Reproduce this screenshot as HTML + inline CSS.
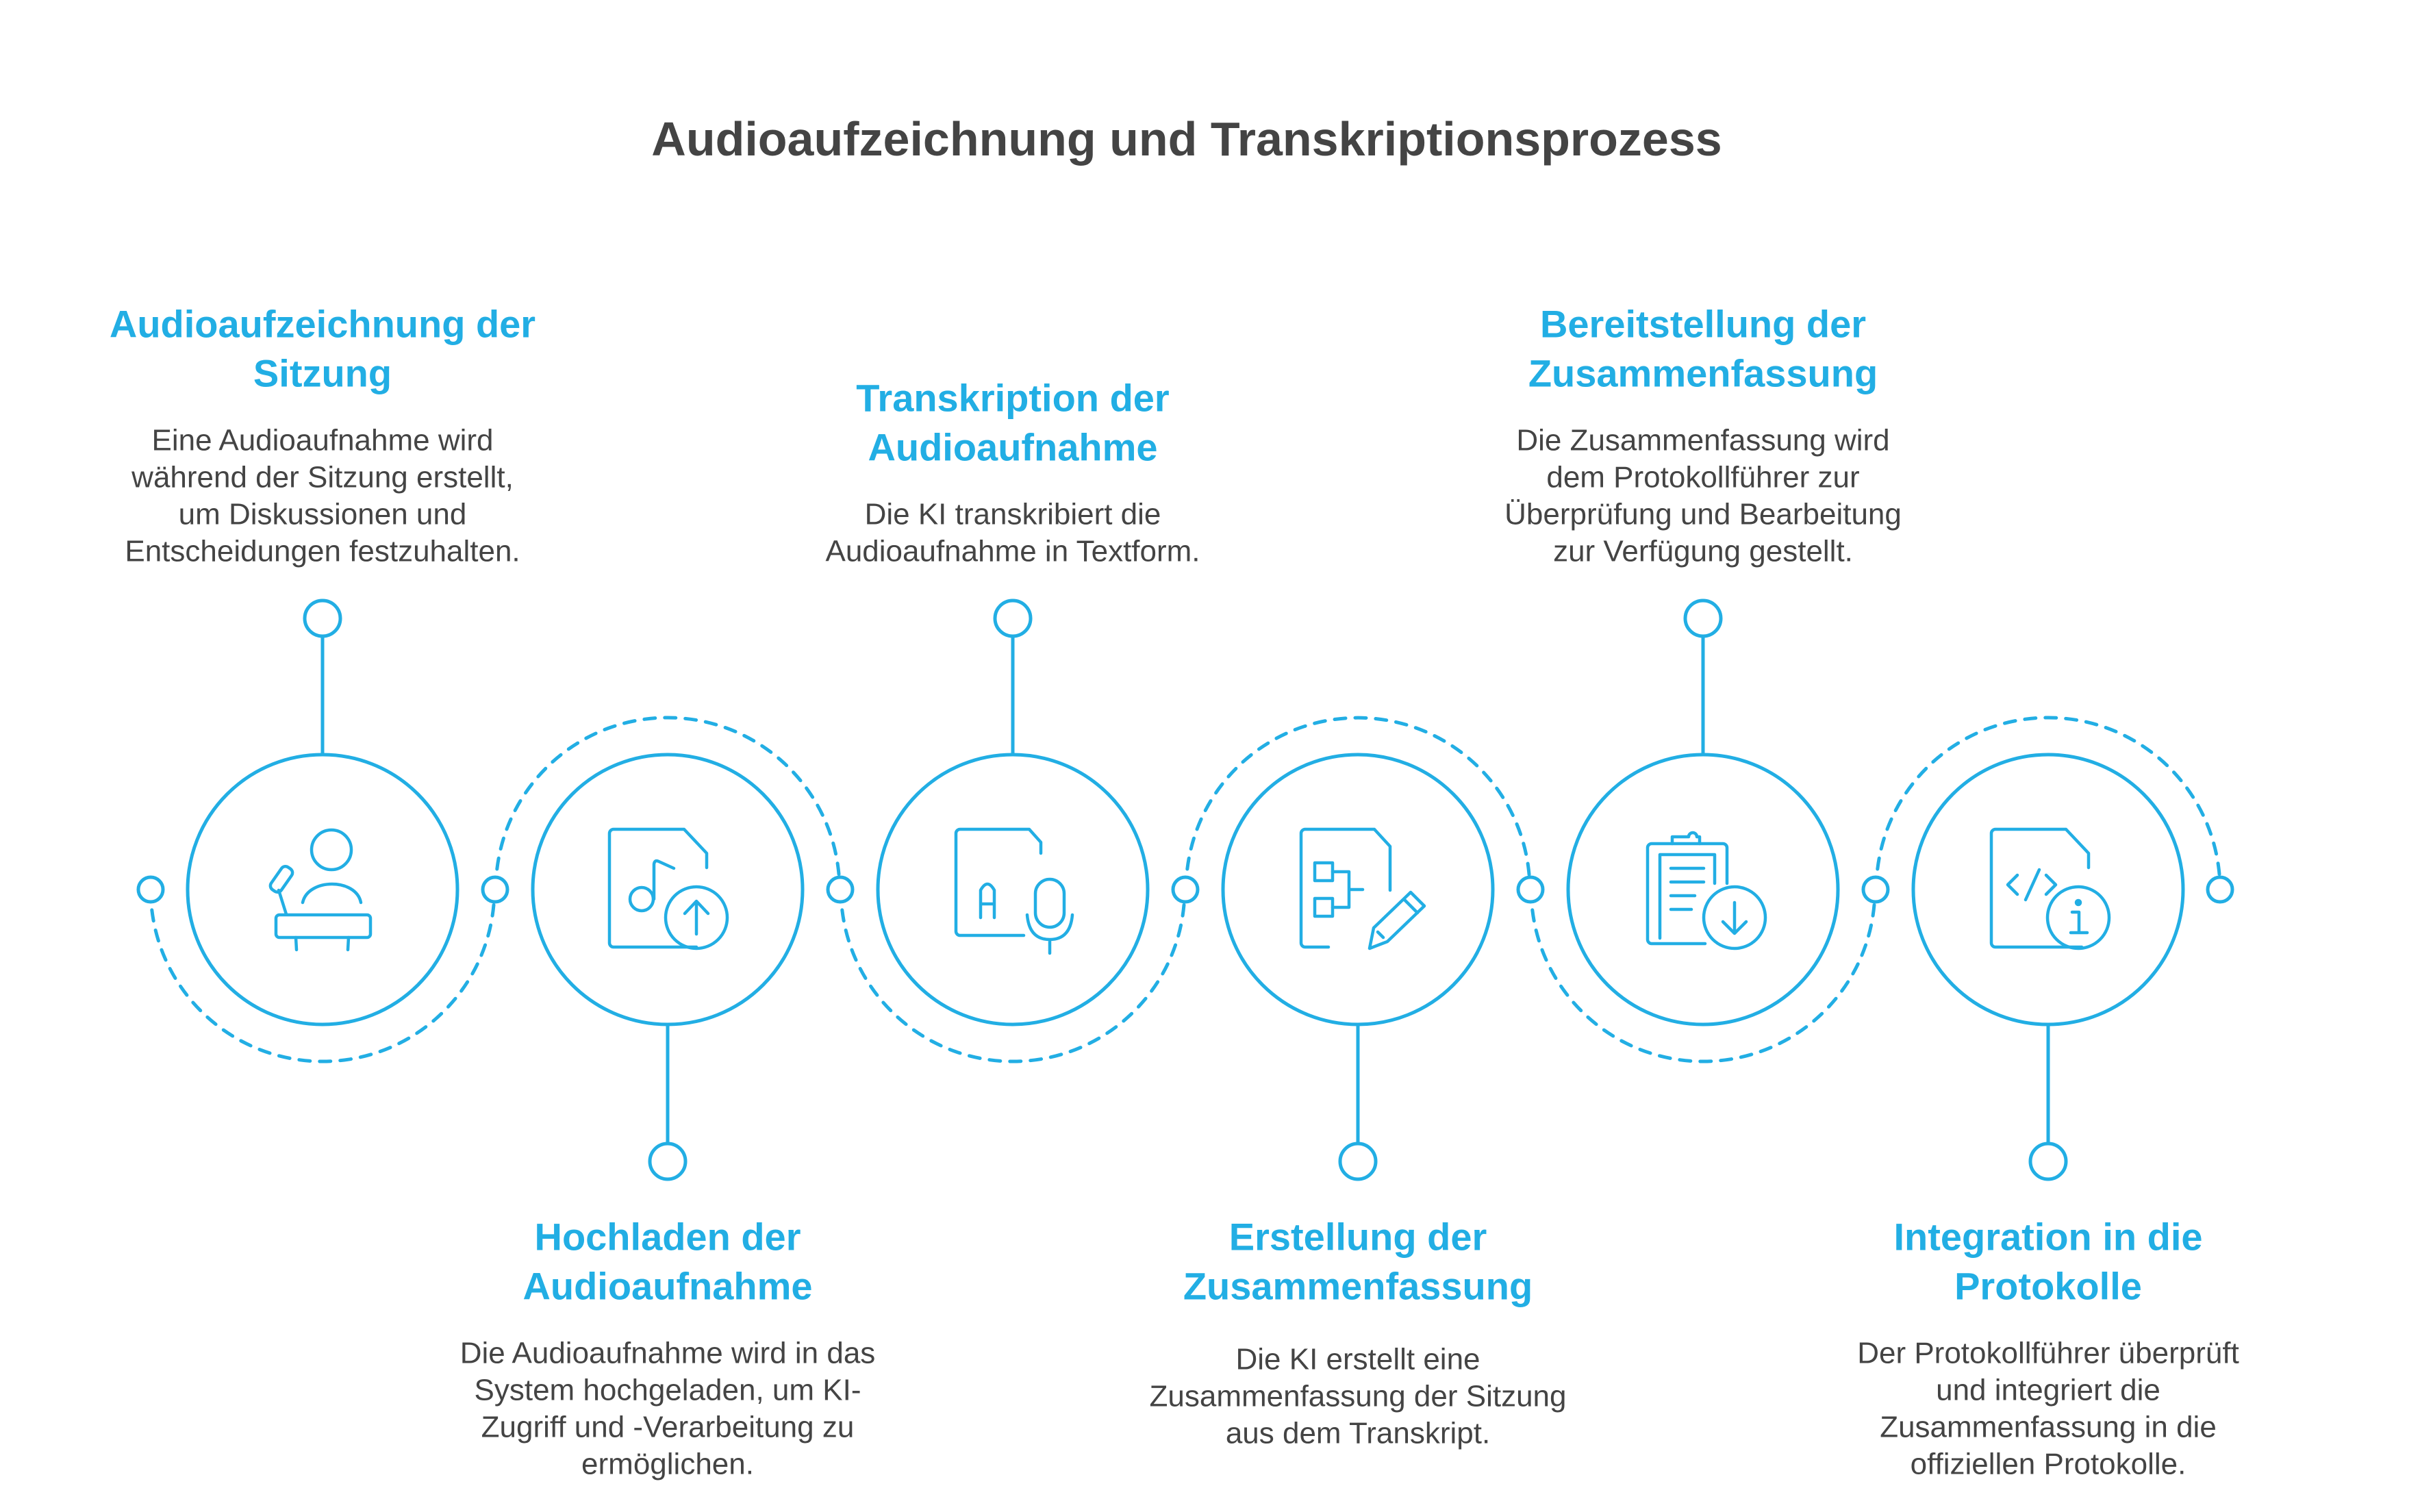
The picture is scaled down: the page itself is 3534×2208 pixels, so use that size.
<!DOCTYPE html>
<html><head><meta charset="utf-8"><style>
html,body{margin:0;padding:0;background:#fff;}
svg{display:block;}
.t{font-family:"Liberation Sans",sans-serif;font-weight:bold;fill:#444;font-size:70px;}
.h{font-family:"Liberation Sans",sans-serif;font-weight:bold;fill:#22AEE4;font-size:56px;}
.b{font-family:"Liberation Sans",sans-serif;fill:#444;font-size:44px;}
</style></head><body>
<svg width="3534" height="2208" viewBox="0 0 3534 2208" xmlns="http://www.w3.org/2000/svg">
<text class="t" x="1733" y="203" text-anchor="middle" dominant-baseline="central">Audioaufzeichnung und Transkriptionsprozess</text>

<g fill="none" stroke="#22AEE4" stroke-width="5" stroke-dasharray="16 14" stroke-linecap="round">
<path d="M220 1299 A251 251 0 0 0 722 1299"/>
<path d="M724 1299 A251 251 0 0 1 1226 1299"/>
<path d="M1228 1299 A251 251 0 0 0 1730 1299"/>
<path d="M1732 1299 A251 251 0 0 1 2234 1299"/>
<path d="M2236 1299 A251 251 0 0 0 2738 1299"/>
<path d="M2740 1299 A251 251 0 0 1 3242 1299"/>
</g>

<g fill="#fff" stroke="#22AEE4" stroke-width="5">
<circle cx="220" cy="1299" r="18"/><circle cx="723" cy="1299" r="18"/><circle cx="1227" cy="1299" r="18"/>
<circle cx="1731" cy="1299" r="18"/><circle cx="2235" cy="1299" r="18"/><circle cx="2739" cy="1299" r="18"/>
<circle cx="3242" cy="1299" r="18"/>
<line x1="471" y1="929" x2="471" y2="1102"/><line x1="1479" y1="929" x2="1479" y2="1102"/><line x1="2487" y1="929" x2="2487" y2="1102"/>
<line x1="975" y1="1496" x2="975" y2="1669"/><line x1="1983" y1="1496" x2="1983" y2="1669"/><line x1="2991" y1="1496" x2="2991" y2="1669"/>
<circle cx="471" cy="903" r="26"/><circle cx="1479" cy="903" r="26"/><circle cx="2487" cy="903" r="26"/>
<circle cx="975" cy="1696" r="26"/><circle cx="1983" cy="1696" r="26"/><circle cx="2991" cy="1696" r="26"/>
<circle cx="471" cy="1299" r="197"/><circle cx="975" cy="1299" r="197"/><circle cx="1479" cy="1299" r="197"/>
<circle cx="1983" cy="1299" r="197"/><circle cx="2487" cy="1299" r="197"/><circle cx="2991" cy="1299" r="197"/>
</g>

<g fill="none" stroke="#22AEE4" stroke-width="4.5" stroke-linecap="round" stroke-linejoin="round">
<circle cx="484" cy="1241" r="29"/>
<path d="M442 1318 C450 1282 520 1282 527 1318"/>
<rect x="403" y="1336" width="138" height="33" rx="5"/>
<line x1="432" y1="1369" x2="433" y2="1387"/><line x1="509" y1="1369" x2="508" y2="1387"/>
<line x1="407" y1="1300" x2="418" y2="1335"/>
<rect x="402" y="1264" width="18" height="40" rx="7" transform="rotate(35 411 1284)"/>
<path d="M1017 1383 H896 a6 6 0 0 1 -6 -6 V1217 a6 6 0 0 1 6 -6 H999 L1032 1246 V1267"/>
<circle cx="1017" cy="1340" r="45"/>
<line x1="1017" y1="1318" x2="1017" y2="1364"/><path d="M1000 1334 L1017 1316 L1034 1334"/>
<circle cx="937" cy="1313" r="17"/><path d="M955 1313 V1262 Q956 1255 962 1258 L984 1268"/>
<path d="M1495 1366 H1402 a6 6 0 0 1 -6 -6 V1217 a6 6 0 0 1 6 -6 H1503 L1520 1230 V1246"/>
<path d="M1432 1340 V1300 Q1442 1282 1452 1300 V1340 M1432 1320 H1452"/>
<rect x="1512" y="1284" width="42" height="70" rx="21"/>
<path d="M1500 1336 Q1503 1372 1533 1372 Q1563 1372 1566 1336 M1533 1372 V1392"/>
<path d="M1940 1383 H1906 a6 6 0 0 1 -6 -6 V1217 a6 6 0 0 1 6 -6 H2007 L2030 1236 V1300"/>
<rect x="1920" y="1260" width="26" height="26"/><rect x="1920" y="1312" width="26" height="26"/>
<path d="M1946 1273 H1970 V1325 H1946 M1970 1299 H1990"/>
<path d="M2000 1385 L2006 1355 L2060 1303 L2080 1323 L2026 1375 Z M2012 1361 L2020 1369 M2050 1313 L2070 1333"/>
<path d="M2490 1378 H2412 a6 6 0 0 1 -6 -6 V1238 a6 6 0 0 1 6 -6 H2516 a6 6 0 0 1 6 6 V1290"/>
<path d="M2424 1370 V1248 H2504 V1290"/>
<path d="M2442 1232 V1222 H2466 a6 6 0 0 1 12 0 H2482 V1232"/>
<path d="M2440 1268 H2488 M2440 1288 H2488 M2440 1308 H2475 M2440 1328 H2470"/>
<circle cx="2533" cy="1340" r="45"/>
<line x1="2533" y1="1318" x2="2533" y2="1362"/><path d="M2516 1346 L2533 1363 L2550 1346"/>
<path d="M3040 1383 H2914 a6 6 0 0 1 -6 -6 V1217 a6 6 0 0 1 6 -6 H3017 L3050 1246 V1267"/>
<path d="M2946 1278 L2932 1292 L2946 1306 M2988 1278 L3002 1292 L2988 1306 M2978 1270 L2958 1314"/>
<circle cx="3035" cy="1340" r="45"/>
<circle cx="3035" cy="1318" r="3" fill="#22AEE4"/>
<path d="M3026 1332 H3036 V1362 M3024 1362 H3048"/>
</g>

<g text-anchor="middle" dominant-baseline="central">
<text class="h" x="471" y="473">Audioaufzeichnung der</text>
<text class="h" x="471" y="545">Sitzung</text>
<text class="b" x="471" y="643">Eine Audioaufnahme wird</text>
<text class="b" x="471" y="697">während der Sitzung erstellt,</text>
<text class="b" x="471" y="751">um Diskussionen und</text>
<text class="b" x="471" y="805">Entscheidungen festzuhalten.</text>

<text class="h" x="1479" y="581">Transkription der</text>
<text class="h" x="1479" y="653">Audioaufnahme</text>
<text class="b" x="1479" y="751">Die KI transkribiert die</text>
<text class="b" x="1479" y="805">Audioaufnahme in Textform.</text>

<text class="h" x="2487" y="473">Bereitstellung der</text>
<text class="h" x="2487" y="545">Zusammenfassung</text>
<text class="b" x="2487" y="643">Die Zusammenfassung wird</text>
<text class="b" x="2487" y="697">dem Protokollführer zur</text>
<text class="b" x="2487" y="751">Überprüfung und Bearbeitung</text>
<text class="b" x="2487" y="805">zur Verfügung gestellt.</text>

<text class="h" x="975" y="1806">Hochladen der</text>
<text class="h" x="975" y="1878">Audioaufnahme</text>
<text class="b" x="975" y="1976">Die Audioaufnahme wird in das</text>
<text class="b" x="975" y="2030">System hochgeladen, um KI-</text>
<text class="b" x="975" y="2084">Zugriff und -Verarbeitung zu</text>
<text class="b" x="975" y="2138">ermöglichen.</text>

<text class="h" x="1983" y="1806">Erstellung der</text>
<text class="h" x="1983" y="1878">Zusammenfassung</text>
<text class="b" x="1983" y="1985">Die KI erstellt eine</text>
<text class="b" x="1983" y="2039">Zusammenfassung der Sitzung</text>
<text class="b" x="1983" y="2093">aus dem Transkript.</text>

<text class="h" x="2991" y="1806">Integration in die</text>
<text class="h" x="2991" y="1878">Protokolle</text>
<text class="b" x="2991" y="1976">Der Protokollführer überprüft</text>
<text class="b" x="2991" y="2030">und integriert die</text>
<text class="b" x="2991" y="2084">Zusammenfassung in die</text>
<text class="b" x="2991" y="2138">offiziellen Protokolle.</text>
</g>
</svg>
</body></html>
